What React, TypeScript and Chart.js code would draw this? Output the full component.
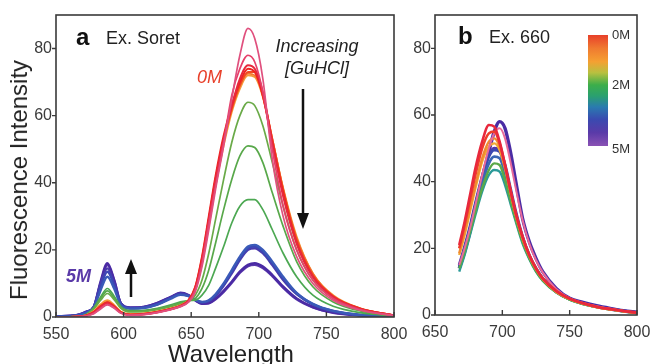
import React, { useEffect, useRef } from "react";
import { Chart, registerables } from "chart.js";
Chart.register(...registerables);

const FONT = "'Liberation Sans', Arial, sans-serif";

// ---------- Panel a (Ex. Soret) ----------
const WL_A = [550, 565, 572, 578, 583, 588, 593, 598, 605, 615, 625, 635, 642, 648, 653, 658, 663, 668, 674, 680, 686, 692, 697, 703, 710, 718, 728, 740, 755, 775, 800];

const A_0M_PINK = [0, 0.1, 0.3, 1, 2.4, 3.6, 2.6, 1.1, 0.5, 0.7, 1.3, 2.2, 3.1, 4.4, 7.5, 15, 26, 38, 51, 65, 78, 86, 83, 71, 47, 30, 18, 10, 5, 2, 0.4];
const A_PINKRED = [0, 0.1, 0.3, 1.1, 2.6, 3.8, 2.8, 1.2, 0.6, 0.8, 1.4, 2.3, 3.2, 4.6, 8, 16, 28, 39, 52, 66, 74, 78, 76, 67, 50, 33, 20, 11, 5.5, 2.2, 0.4];
const A_RED1 = [0, 0.1, 0.4, 1.4, 3, 4.2, 3, 1.3, 0.6, 0.8, 1.4, 2.3, 3.2, 4.8, 8.5, 17, 29, 41, 53, 63, 71, 75, 74, 67, 52, 36, 22, 12, 6, 2.4, 0.5];
const A_RED2 = [0, 0.1, 0.4, 1.5, 3.2, 4.3, 3.1, 1.4, 0.7, 0.9, 1.5, 2.4, 3.3, 5, 9, 18, 30, 42, 54, 63, 70, 74, 73, 66, 52, 37, 22, 12, 6, 2.5, 0.5];
const A_REDOR = [0, 0.1, 0.4, 1.4, 3.1, 4.4, 3.2, 1.4, 0.7, 0.9, 1.5, 2.4, 3.3, 4.9, 8.8, 17.5, 29, 41, 53, 62, 69, 73, 73, 66, 53, 38, 23, 12.5, 6.2, 2.5, 0.5];
const A_ORANGE1 = [0, 0.1, 0.4, 1.6, 3.4, 4.6, 3.3, 1.5, 0.8, 1, 1.6, 2.5, 3.4, 4.9, 8.5, 17, 28, 40, 52, 62, 69, 72.5, 72, 66, 53, 38, 23.5, 13, 6.3, 2.6, 0.5];
const A_ORANGE2 = [0, 0.1, 0.5, 1.8, 3.8, 5, 3.6, 1.6, 0.9, 1.1, 1.7, 2.6, 3.5, 5, 8.2, 16, 27, 39, 51, 61, 68, 72, 71.5, 65.5, 53, 38.5, 24, 13, 6.5, 2.6, 0.5];
const A_GREEN1 = [0, 0.1, 0.6, 2.4, 5, 7, 5.2, 2.6, 1.5, 1.6, 2.2, 3.1, 3.9, 4.8, 6.5, 11, 19, 29, 41, 52, 60, 64, 63, 57, 46, 33, 20, 11, 5.5, 2.2, 0.4];
const A_GREEN2 = [0, 0.1, 0.6, 2.6, 5.5, 7.8, 5.6, 2.8, 1.7, 1.8, 2.4, 3.3, 4.2, 4.8, 5.5, 8.5, 14, 22, 32, 41, 48, 51, 50.5, 46, 37, 27, 16.5, 9, 4.5, 1.8, 0.4];
const A_GREEN3 = [0, 0.1, 0.7, 2.8, 6, 8.5, 6.2, 3.1, 1.9, 2, 2.6, 3.6, 4.5, 4.9, 5, 6.5, 9.5, 14.5, 21, 28, 33, 35, 35, 32, 26, 19, 12, 6.5, 3.2, 1.3, 0.3];
const A_BLUE1 = [0.1, 0.4, 1.2, 2.8, 8, 12, 8.5, 3.6, 2.5, 2.7, 3.7, 5.5, 6.6, 6.2, 5.2, 4.5, 5, 6.8, 10, 14, 18, 21, 21.5, 20, 16.5, 12, 7.2, 3.9, 1.8, 0.6, 0.1];
const A_BLUE2 = [0.1, 0.4, 1.3, 3, 9, 13.5, 9.5, 3.8, 2.6, 2.8, 3.8, 5.7, 6.8, 6.3, 5.2, 4.4, 4.8, 6.5, 9.6, 13.5, 17.5, 20.5, 21, 19.5, 16, 11.5, 7, 3.8, 1.8, 0.6, 0.1];
const A_PURPLE1 = [0.1, 0.5, 1.4, 3, 10, 14.5, 10, 4, 2.7, 2.9, 3.9, 5.8, 7, 6.4, 5.1, 4.3, 4.7, 6.3, 9.3, 13, 17, 20, 20.5, 19, 15.5, 11, 6.8, 3.7, 1.7, 0.6, 0.1];
const A_PURPLE2 = [0.2, 0.5, 1.5, 3, 10.5, 16, 11, 4, 2.8, 3, 4.2, 6, 7.2, 6.5, 5, 4, 4.2, 5.5, 7.8, 10.5, 13.5, 15.5, 16, 15, 12.5, 9, 5.5, 3, 1.4, 0.5, 0.1];
const A_5M = [0.2, 0.5, 1.4, 3, 10, 15.5, 10.8, 4, 2.7, 3, 4.1, 5.9, 7.1, 6.4, 5, 4, 4.1, 5.3, 7.5, 10.2, 13.2, 15.2, 15.6, 14.6, 12.2, 8.8, 5.3, 2.9, 1.3, 0.5, 0.1];

const A_SERIES = [A_0M_PINK, A_PINKRED, A_RED1, A_RED2, A_REDOR, A_ORANGE1, A_ORANGE2, A_GREEN1, A_GREEN2, A_GREEN3, A_BLUE1, A_BLUE2, A_PURPLE1, A_PURPLE2, A_5M];
const A_COLORS = ["#e0507e", "#e6406a", "#e8283c", "#ee2420", "#f04a24", "#f27a30", "#f59a3a", "#6aaa48", "#58a84a", "#4ca852", "#3a5ab8", "#3c46b4", "#4a3aac", "#4a2aa4", "#5a38ac"];
const A_WIDTHS = [1.7, 1.7, 2, 2, 2, 1.8, 1.8, 1.7, 1.7, 1.7, 2.4, 2.4, 2.4, 2.6, 2.6];

// ---------- Panel b (Ex. 660) ----------
const WL_B = [668, 672, 676, 680, 685, 690, 694, 698, 702, 706, 710, 715, 720, 725, 730, 740, 750, 760, 770, 780, 790, 800];

const B_RED1 = [21, 28, 36, 44, 52, 57, 56.5, 52, 45, 37.5, 30.5, 23.5, 18, 14, 11, 7.2, 4.9, 3.5, 2.5, 1.8, 1.2, 0.7];
const B_RED2 = [20, 27, 34.5, 42, 50, 54.5, 55, 51.5, 45, 37.5, 30.5, 23.5, 18, 14, 11, 7.2, 4.9, 3.5, 2.5, 1.8, 1.2, 0.7];
const B_PINK = [15, 20, 26, 33, 42, 50, 54.5, 56, 53, 46, 38, 28.5, 21.5, 16.5, 12.8, 7.8, 5, 3.6, 2.6, 1.9, 1.2, 0.7];
const B_ORANGE = [18.5, 25, 32, 39, 47, 52, 53, 50.5, 44.5, 37, 30, 23, 17.8, 13.8, 10.8, 7, 4.8, 3.4, 2.4, 1.7, 1.1, 0.6];
const B_YELLOW = [18, 24, 31, 38, 46, 50.5, 51.5, 49.5, 44, 37, 30, 23, 17.8, 13.8, 10.8, 7, 4.8, 3.4, 2.4, 1.7, 1.1, 0.6];
const B_GREEN = [14, 19, 25, 31, 38, 43.5, 45.5, 45, 40.5, 34.5, 28.5, 22, 17, 13.2, 10.4, 6.8, 4.6, 3.3, 2.4, 1.7, 1.1, 0.6];
const B_TEAL = [13, 18, 24, 30, 37, 42, 43.5, 43, 39, 33.5, 28, 21.5, 16.8, 13, 10.3, 6.8, 4.6, 3.3, 2.4, 1.7, 1.1, 0.6];
const B_BLUE1 = [14, 19, 25, 32, 39.5, 45.5, 47.5, 47, 42.5, 36, 29.5, 22.5, 17.3, 13.5, 10.6, 6.9, 4.7, 3.4, 2.4, 1.7, 1.1, 0.6];
const B_BLUE2 = [14.5, 20, 26, 33, 41, 47.5, 49.5, 49, 44, 37, 30, 23, 17.6, 13.7, 10.8, 7, 4.8, 3.4, 2.5, 1.8, 1.2, 0.7];
const B_PURPLE2 = [15, 20.5, 26.5, 33.5, 41.5, 48, 50, 49.5, 45, 38, 31, 23.5, 18, 14, 11, 7.2, 4.9, 3.5, 2.5, 1.8, 1.2, 0.7];
const B_PURPLE1 = [14, 19, 25, 32, 41, 49, 55, 58, 56, 49, 40, 29, 22, 17, 13, 8, 5, 3.8, 2.8, 2, 1.3, 0.8];

const B_SERIES = [B_RED1, B_RED2, B_PINK, B_ORANGE, B_YELLOW, B_GREEN, B_TEAL, B_BLUE1, B_BLUE2, B_PURPLE2, B_PURPLE1];
const B_COLORS = ["#e8283c", "#ef3e2a", "#e86a9a", "#f08a30", "#f2aa34", "#5aa848", "#2a9a98", "#3a66b4", "#3c48b0", "#5634a8", "#4a2ca4"];
const B_WIDTHS = [2.6, 2.6, 2, 2.4, 2.4, 2.4, 2.4, 2.8, 2.8, 3, 3.4];

const Y_TICKS = [0, 20, 40, 60, 80];
const XA_TICKS = [550, 600, 650, 700, 750, 800];
const XB_TICKS = [650, 700, 750, 800];

const framePlugin = {
  id: "frame",
  afterDatasetsDraw(chart: any) {
    const { ctx, chartArea: a, scales } = chart;
    ctx.save();
    ctx.strokeStyle = "#3a3a3a";
    ctx.lineWidth = 1.6;
    ctx.strokeRect(a.left, a.top, a.right - a.left, a.bottom - a.top);
    ctx.lineWidth = 1.4;
    ctx.beginPath();
    for (const t of scales.y.ticks) {
      const py = scales.y.getPixelForValue(t.value);
      ctx.moveTo(a.left - 4, py);
      ctx.lineTo(a.left, py);
    }
    for (const t of scales.x.ticks) {
      const px = scales.x.getPixelForValue(t.value);
      ctx.moveTo(px, a.bottom);
      ctx.lineTo(px, a.bottom - 5);
    }
    ctx.stroke();
    ctx.restore();
  },
};

function makeConfig(wl: number[], series: number[][], colors: string[], widths: number[], xmin: number, xmax: number, xticks: number[], yWidth: number, right: number, xHeight: number) {
  return {
    type: "line" as const,
    data: {
      datasets: series.map((s, i) => ({
        data: s.map((v, j) => ({ x: wl[j], y: v })),
        borderColor: colors[i],
        borderWidth: widths[i],
        pointRadius: 0,
        fill: false,
        cubicInterpolationMode: "monotone" as const,
      })),
    },
    options: {
      animation: false as const,
      responsive: false,
      maintainAspectRatio: false,
      layout: { padding: { left: 0, right, top: 15, bottom: 0 } },
      plugins: { legend: { display: false }, tooltip: { enabled: false } },
      scales: {
        x: {
          type: "linear" as const,
          min: xmin,
          max: xmax,
          grid: { display: false, drawTicks: false },
          border: { display: false },
          afterBuildTicks: (s: any) => { s.ticks = xticks.map((v) => ({ value: v })); },
          afterFit: (s: any) => { s.height = xHeight; s.paddingLeft = 0; s.paddingRight = 0; },
          ticks: { color: "#3a3a3a", font: { family: FONT, size: 16 }, padding: 8, maxRotation: 0, autoSkip: false },
        },
        y: {
          min: 0,
          max: 90,
          grid: { display: false, drawTicks: false },
          border: { display: false },
          afterBuildTicks: (s: any) => { s.ticks = Y_TICKS.map((v) => ({ value: v })); },
          afterFit: (s: any) => { s.width = yWidth; s.paddingTop = 0; s.paddingBottom = 0; },
          ticks: { color: "#3a3a3a", font: { family: FONT, size: 16 }, padding: 4 },
        },
      },
    },
    plugins: [framePlugin],
  };
}

function Panel(props: { left: number; width: number; cfg: any }) {
  const ref = useRef<HTMLCanvasElement>(null);
  useEffect(() => {
    const chart = new Chart(ref.current as HTMLCanvasElement, props.cfg);
    return () => chart.destroy();
  }, []);
  return (
    <canvas
      ref={ref}
      width={props.width}
      height={364}
      style={{ position: "absolute", left: props.left, top: 0, width: props.width, height: 364 }}
    />
  );
}

const txt = (extra: any): any => ({ position: "absolute", fontFamily: FONT, whiteSpace: "nowrap", lineHeight: 1, ...extra });

export default function App() {
  const cfgA = makeConfig(WL_A, A_SERIES, A_COLORS, A_WIDTHS, 550, 800, XA_TICKS, 56, 26, 47);
  const cfgB = makeConfig(WL_B, B_SERIES, B_COLORS, B_WIDTHS, 650, 800, XB_TICKS, 35, 14, 49);
  return (
    <div style={{ position: "absolute", left: 0, top: 0, width: 651, height: 364, background: "#fff", overflow: "hidden" }}>
      <Panel left={0} width={420} cfg={cfgA} />
      <Panel left={400} width={251} cfg={cfgB} />

      <div style={txt({ left: 19, top: 180, fontSize: 24, color: "#222", transform: "translate(-50%,-50%) rotate(-90deg)" })}>Fluorescence Intensity</div>
      <div style={txt({ left: 231, top: 354, fontSize: 24, color: "#222", transform: "translate(-50%,-50%)" })}>Wavelength</div>

      <div style={txt({ left: 76, top: 37, fontSize: 24, fontWeight: "bold", color: "#111", transform: "translateY(-50%)" })}>a</div>
      <div style={txt({ left: 106, top: 38, fontSize: 18, color: "#222", transform: "translateY(-50%)" })}>Ex. Soret</div>
      <div style={txt({ left: 197, top: 77, fontSize: 18, fontStyle: "italic", color: "#e8402a", transform: "translateY(-50%)" })}>0M</div>
      <div style={txt({ left: 317, top: 46, fontSize: 18, fontStyle: "italic", color: "#222", transform: "translate(-50%,-50%)" })}>Increasing</div>
      <div style={txt({ left: 317, top: 68, fontSize: 18, fontStyle: "italic", color: "#222", transform: "translate(-50%,-50%)" })}>[GuHCl]</div>
      <div style={txt({ left: 66, top: 276, fontSize: 18, fontStyle: "italic", fontWeight: "bold", color: "#5a3aa8", transform: "translateY(-50%)" })}>5M</div>

      <div style={txt({ left: 458, top: 36, fontSize: 24, fontWeight: "bold", color: "#111", transform: "translateY(-50%)" })}>b</div>
      <div style={txt({ left: 489, top: 37, fontSize: 18, color: "#222", transform: "translateY(-50%)" })}>Ex. 660</div>

      <div style={{ position: "absolute", left: 588, top: 35, width: 20, height: 111, background: "linear-gradient(to bottom, #e8402a 0%, #f07a30 12%, #f5a032 24%, #b8c040 34%, #3cae4a 45%, #2aa070 55%, #2a7ab0 65%, #3a4ab0 76%, #5a3aa8 88%, #8a52b4 100%)" }} />
      <div style={txt({ left: 612, top: 34, fontSize: 13, color: "#333", transform: "translateY(-50%)" })}>0M</div>
      <div style={txt({ left: 612, top: 84, fontSize: 13, color: "#333", transform: "translateY(-50%)" })}>2M</div>
      <div style={txt({ left: 612, top: 148, fontSize: 13, color: "#333", transform: "translateY(-50%)" })}>5M</div>

      <svg width={651} height={364} style={{ position: "absolute", left: 0, top: 0, pointerEvents: "none" }}>
        <line x1={303} y1={89} x2={303} y2={216} stroke="#111" strokeWidth={2.5} />
        <polygon points="297,213 309,213 303,229" fill="#111" />
        <line x1={131} y1={297} x2={131} y2={272} stroke="#111" strokeWidth={2.5} />
        <polygon points="125,274 137,274 131,259" fill="#111" />
      </svg>
    </div>
  );
}
